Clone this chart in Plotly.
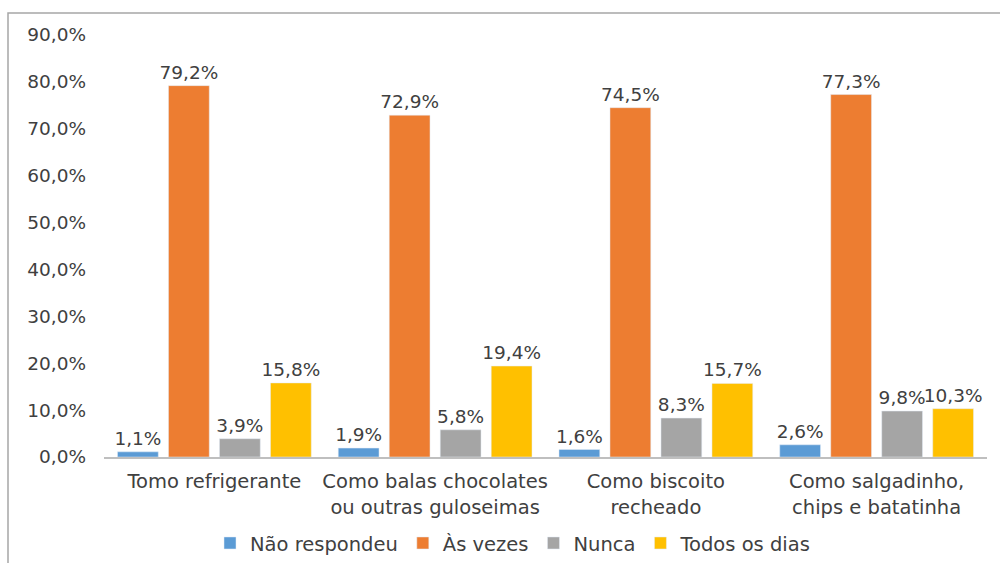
import plotly.graph_objects as go

categories = [
    "Tomo refrigerante",
    "Como balas chocolates<br>ou outras guloseimas",
    "Como biscoito<br>recheado",
    "Como salgadinho,<br>chips e batatinha",
]
series_names = ["Não respondeu", "Às vezes", "Nunca", "Todos os dias"]
nao_respondeu = [1.1, 1.9, 1.6, 2.6]
as_vezes = [79.2, 72.9, 74.5, 77.3]
nunca = [3.9, 5.8, 8.3, 9.8]
todos_os_dias = [15.8, 19.4, 15.7, 10.3]
colors = ["#5B9BD5", "#ED7D31", "#A5A5A5", "#FFC000"]
y_ticks = [0, 10, 20, 30, 40, 50, 60, 70, 80, 90]
y_ticklabels = [f"{v:.1f}%".replace(".", ",") for v in y_ticks]

FONT = "DejaVu Sans"
fig = go.Figure()
for name, vals, col in zip(series_names, [nao_respondeu, as_vezes, nunca, todos_os_dias], colors):
    fig.add_trace(go.Bar(
        name=name, x=categories, y=vals, marker_color=col,
        text=vals, texttemplate="%{y:.1f}%", textposition="outside",
        textfont=dict(family=FONT, size=18.5, color="#404040"),
        constraintext="none", cliponaxis=False,
    ))

fig.update_layout(
    width=1000, height=563,
    barmode="group", bargap=0.076, bargroupgap=0.2,
    separators=",.",
    paper_bgcolor="white", plot_bgcolor="white",
    margin=dict(l=104, r=13, t=35, b=106),
    font=dict(family=FONT, color="#404040"),
    legend=dict(orientation="h", xref="container", yref="container",
                x=0.513, xanchor="center", y=0.035, yanchor="middle",
                font=dict(family=FONT, size=19.5, color="#404040"), traceorder="normal"),
    showlegend=True,
    shapes=[dict(type="rect", xref="paper", yref="paper",
                 x0=(8 - 104) / 883, x1=1.05, y0=-0.35, y1=1 + (35 - 13) / 422,
                 line=dict(color="#A6A6A6", width=1.5), fillcolor="rgba(0,0,0,0)", layer="below")],
)
fig.update_xaxes(showline=True, linecolor="#BFBFBF", linewidth=1.5, showgrid=False,
                 ticks="", tickfont=dict(family=FONT, size=19.5, color="#404040"),
                 ticklabelstandoff=6, automargin=False)
fig.update_yaxes(range=[0, 90], tickmode="array", tickvals=y_ticks, ticktext=y_ticklabels,
                 showgrid=False, zeroline=False, showline=False, ticks="",
                 tickfont=dict(family=FONT, size=18.5, color="#404040"), ticklabelstandoff=17,
                 automargin=False)

fig.write_html(
    "out.html",
    config={"displayModeBar": False},
    post_script=(
        "document.body.style.margin='0';"
        "document.body.style.overflow='hidden';"
        "document.documentElement.style.overflow='hidden';"
    ),
)
